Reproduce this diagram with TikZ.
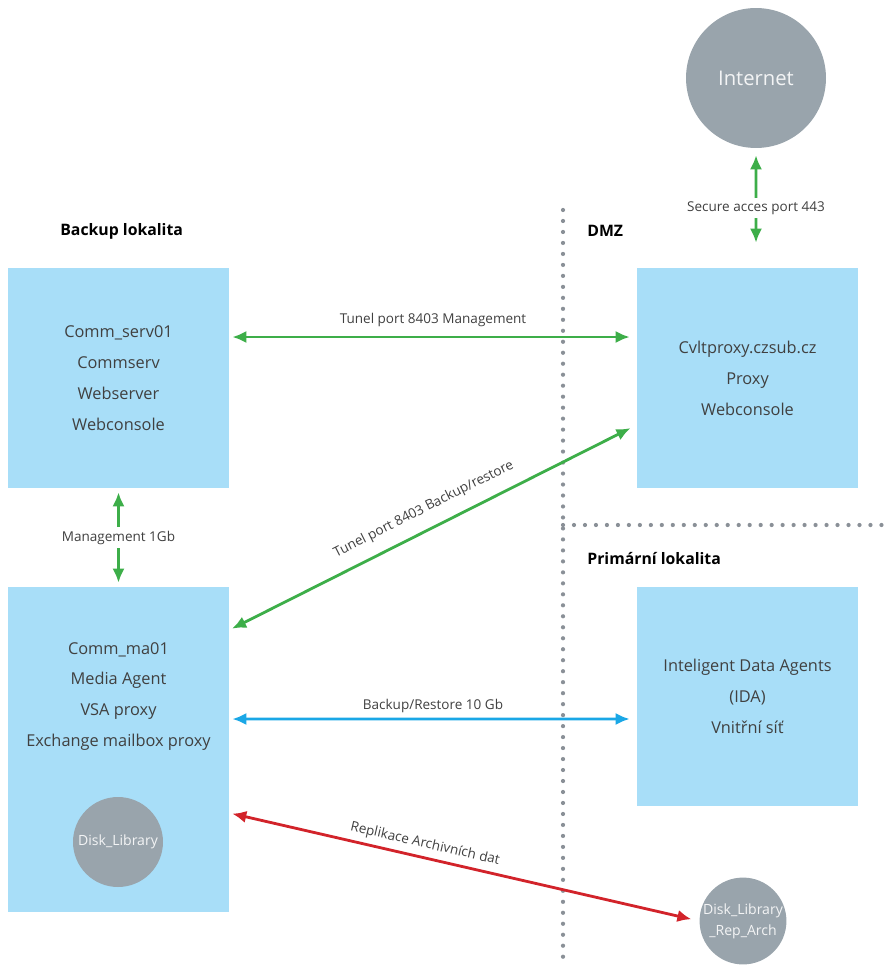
\documentclass[tikz,border=0pt]{standalone}
\usepackage{fontspec}
\setmainfont{Open Sans}
\usetikzlibrary{arrows.meta}
\usetikzlibrary{positioning}
\usetikzlibrary{calc}
\definecolor{boxblue}{HTML}{A8DEF8}
\definecolor{diskgray}{HTML}{99A4AC}
\definecolor{dotgray}{HTML}{8A9097}
\definecolor{txtgray}{HTML}{404040}
\definecolor{linkgreen}{HTML}{3DAE49}
\definecolor{linkblue}{HTML}{1AA7E6}
\definecolor{linkred}{HTML}{D2232A}
\tikzset {
  site box/.style = {
    fill = boxblue,
    draw = none,
    rectangle,
    minimum width = 4.42cm,
    align = center,
    text = txtgray,
    font = \fontsize{9.3}{17.6}\selectfont
  },
  % grey storage circle
  disk/.style = {
    fill = diskgray,
    circle,
    inner sep = 0,
    align = center,
    text = white!88!diskgray,
    font = \fontsize{8}{12}\selectfont
  },
  heading/.style = {
    inner sep = 0,
    font = \fontsize{9}{11}\selectfont\bfseries
  },
  % zone border
  zone/.style = {
    draw = dotgray,
    line width = 2.4pt,
    line cap = round,
    dash pattern = on 0pt off 6.25pt
  },
  % two headed link
  link/.style = {
    line width = 1.6pt,
    {Latex[length=8pt,width=7pt]}-{Latex[length=8pt,width=7pt]}
  },
  lbl/.style = {
    text = txtgray,
    font = \fontsize{7.7}{9}\selectfont,
    inner sep = 2pt
  }
}
\begin{document}
\begin{tikzpicture}[x=0.02cm,y=-0.02cm]
  \useasboundingbox (0,0) rectangle (887,966);

  % zones
  \draw[zone] (563,210) -- (563,966);
  \draw[zone] (563,525) -- (887,525);
  \node[heading, anchor=west] (backup-title) at (60,231) {Backup lokalita};
  \node[heading, anchor=west] (dmz-title) at (587,231) {DMZ};
  \node[heading, anchor=west] (primary-title) at (587,559) {Primární lokalita};

  % nodes
  \node[disk, minimum size=2.8cm, font=\fontsize{11.5}{14}\selectfont] (internet) at (756,78) {Internet};
  \node[site box, minimum height=4.4cm] (commserv) at (118.5,378)
    {Comm\_serv01\\Commserv\\Webserver\\Webconsole};
  \node[site box, minimum height=4.4cm] (proxy) at (747.5,378)
    {Cvltproxy.czsub.cz\\Proxy\\Webconsole};
  \node[site box, minimum height=6.5cm] (mediaagent) at (118.5,749.5) {};
  \node[site box, fill=none, anchor=north] (ma-text) at (118.5,636)
    {Comm\_ma01\\Media Agent\\VSA proxy\\Exchange mailbox proxy};
  \node[disk, minimum size=1.8cm] (disklib) at (118,842) {Disk\_Library};
  \node[site box, minimum height=4.38cm] (ida) at (747.5,696.5)
    {Inteligent Data Agents\\(IDA)\\Vnitřní síť};
  \node[disk, minimum size=1.68cm] (reparch) at (743,921) {Disk\_Library\\\_Rep\_Arch};

  % links
  \draw[link, linkgreen, shorten <=0.5cm, shorten >=0.14cm] ([xshift=0.17cm]proxy.north) -- (internet.south)
    node[midway, lbl, fill=white] {Secure acces port 443};
  \draw[link, linkgreen, shorten <=0.06cm, shorten >=0.14cm]
    ([yshift=0.82cm]commserv.east) -- ([yshift=0.82cm]proxy.west)
    node[midway, lbl, above=3pt] {Tunel port 8403 Management};
  \draw[link, linkgreen, shorten <=0.08cm, shorten >=0.08cm] (commserv.south) -- (mediaagent.north)
    node[midway, lbl, fill=white] {Management 1Gb};
  \draw[link, linkgreen, shorten <=0.06cm, shorten >=0.14cm]
    ([yshift=2.39cm]mediaagent.east) -- ([yshift=-0.94cm]proxy.west)
    node[midway, lbl, sloped, above=5pt] {Tunel port 8403 Backup/restore};
  \draw[link, linkblue, shorten <=0.06cm, shorten >=0.14cm]
    ([yshift=0.61cm]mediaagent.east) -- ([yshift=-0.45cm]ida.west)
    node[midway, lbl, above=1pt] {Backup/Restore 10 Gb};
  \draw[link, linkred, shorten <=0.06cm, shorten >=0.16cm]
    ([yshift=-1.27cm]mediaagent.east) -- (reparch.west)
    node[pos=0.41, lbl, sloped, above=1pt] {Replikace Archivních dat};
\end{tikzpicture}
\end{document}
